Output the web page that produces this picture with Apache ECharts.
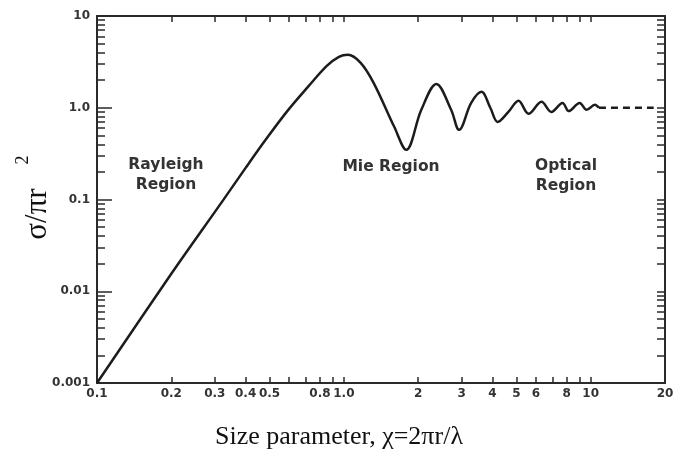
<!DOCTYPE html>
<html>
<head>
<meta charset="utf-8">
<script src="https://cdn.jsdelivr.net/npm/echarts@6/dist/echarts.min.js"></script>
<style>
  html, body { margin: 0; padding: 0; background: #ffffff; }
  #chart { width: 692px; height: 451px; }
</style>
</head>
<body>
<div id="chart"></div>
<script>
// Normalised radar cross-section of a conducting sphere vs. size parameter
const sizeParam = [0.1, 0.2, 0.325, 0.400, 0.482, 0.591, 0.721, 0.853, 0.955, 1.038, 1.17, 1.32, 1.60, 1.79,
  2.06, 2.37, 2.72, 2.93, 3.28, 3.61, 3.92, 4.2, 4.64, 5.10, 5.6, 6.32, 6.93, 7.69, 8.15, 9.02, 9.63, 10.4, 10.8];
const crossSection = [0.001, 0.0155, 0.099, 0.221, 0.447, 0.925, 1.73, 2.86, 3.59, 3.78, 3.09, 1.87, 0.62, 0.348,
  0.95, 1.82, 0.95, 0.574, 1.13, 1.49, 1.0, 0.70, 0.90, 1.19, 0.86, 1.16, 0.90, 1.13, 0.92, 1.13, 0.95, 1.08, 1.0];

// Optical (geometric) limit, drawn dashed
const opticalX = [10.8, 18];
const opticalY = [1.0, 1.0];

// Axis ticks and labels
const xTickValues = [0.2, 0.3, 0.4, 0.5, 0.6, 0.7, 0.8, 0.9, 1, 2, 3, 4, 5, 6, 7, 8, 9, 10];
const xLabelValues = [0.1, 0.2, 0.3, 0.4, 0.5, 0.8, 1, 2, 3, 4, 5, 6, 8, 10, 20];
const xLabelTexts = ['0.1', '0.2', '0.3', '0.4', '0.5', '0.8', '1.0', '2', '3', '4', '5', '6', '8', '10', '20'];
const yMajorValues = [0.001, 0.01, 0.1, 1, 10];
const yMajorTexts = ['0.001', '0.01', '0.1', '1.0', '10'];
const yMinorValues = [
  0.002, 0.003, 0.004, 0.005, 0.006, 0.007, 0.008, 0.009,
  0.02, 0.03, 0.04, 0.05, 0.06, 0.07, 0.08, 0.09,
  0.2, 0.3, 0.4, 0.5, 0.6, 0.7, 0.8, 0.9,
  2, 3, 4, 5, 6, 7, 8, 9
];

// Region annotations
const regionNames = ['Rayleigh\nRegion', 'Mie Region', 'Optical\nRegion'];

const INK = '#1c1c1c';
const LABEL_FONT = { fontFamily: 'DejaVu Sans', fontWeight: 'bold', fontSize: 12, color: '#333333' };
const REGION_FONT = 'bold 15.5px "DejaVu Sans"';

function lookup(values, texts) {
  return function (v) {
    const i = values.findIndex(t => Math.abs(Math.log10(t) - Math.log10(v)) < 1e-6);
    return i < 0 ? '' : texts[i];
  };
}

const chart = echarts.init(document.getElementById('chart'), null, { renderer: 'canvas' });

const xBase = { type: 'log', logBase: 10, min: 0.1, max: 20, splitLine: { show: false }, minorTick: { show: false } };
const yBase = { type: 'log', logBase: 10, min: 0.001, max: 10, splitLine: { show: false }, minorTick: { show: false } };
const frameLine = { show: true, lineStyle: { color: '#2a2a2a', width: 2 } };
const tickLine = { color: '#2a2a2a', width: 1.5 };

chart.setOption({
  animation: false,
  backgroundColor: '#ffffff',
  grid: { left: 97, right: 27, top: 16, bottom: 68 },
  xAxis: [
    Object.assign({}, xBase, {
      position: 'bottom',
      axisLine: frameLine,
      axisTick: { show: true, inside: true, length: 6, customValues: xTickValues, lineStyle: tickLine },
      axisLabel: Object.assign({ show: true, margin: 5, customValues: xLabelValues, formatter: lookup(xLabelValues, xLabelTexts) }, LABEL_FONT)
    }),
    Object.assign({}, xBase, {
      position: 'top',
      axisLine: frameLine,
      axisTick: { show: true, inside: true, length: 6, customValues: xTickValues, lineStyle: tickLine },
      axisLabel: { show: false }
    })
  ],
  yAxis: [
    Object.assign({}, yBase, {
      position: 'left',
      axisLine: frameLine,
      axisTick: { show: true, inside: true, length: 15, customValues: yMajorValues, lineStyle: tickLine },
      axisLabel: Object.assign({ show: true, margin: 7, customValues: yMajorValues, formatter: lookup(yMajorValues, yMajorTexts) }, LABEL_FONT)
    }),
    Object.assign({}, yBase, {
      position: 'left',
      axisLine: { show: false },
      axisTick: { show: true, inside: true, length: 8, customValues: yMinorValues, lineStyle: tickLine },
      axisLabel: { show: false }
    }),
    Object.assign({}, yBase, {
      position: 'right',
      axisLine: frameLine,
      axisTick: { show: true, inside: true, length: 8, customValues: yMinorValues.concat(yMajorValues), lineStyle: tickLine },
      axisLabel: { show: false }
    })
  ],
  series: [
    {
      type: 'line',
      xAxisIndex: 0,
      yAxisIndex: 0,
      data: sizeParam.map((x, i) => [x, crossSection[i]]),
      smooth: 0.35,
      showSymbol: false,
      lineStyle: { color: INK, width: 2.5 },
      z: 5
    },
    {
      type: 'line',
      xAxisIndex: 0,
      yAxisIndex: 0,
      data: opticalX.map((x, i) => [x, opticalY[i]]),
      showSymbol: false,
      lineStyle: { color: INK, width: 2.5, type: [7, 5] },
      z: 5
    }
  ],
  graphic: [
    { type: 'text', x: 166, y: 175, style: { text: regionNames[0], align: 'center', verticalAlign: 'middle', lineHeight: 20, font: REGION_FONT, fill: '#333333' } },
    { type: 'text', x: 391, y: 167, style: { text: regionNames[1], align: 'center', verticalAlign: 'middle', lineHeight: 20, font: REGION_FONT, fill: '#333333' } },
    { type: 'text', x: 566, y: 176, style: { text: regionNames[2], align: 'center', verticalAlign: 'middle', lineHeight: 20, font: REGION_FONT, fill: '#333333' } },
    { type: 'text', x: 339, y: 437, style: { text: 'Size parameter, χ=2πr/λ', align: 'center', verticalAlign: 'middle', font: '26px "Liberation Serif"', fill: '#111111' } },
    // vertical axis title: σ/πr with a raised 2
    { type: 'text', x: 38, y: 214, rotation: Math.PI / 2, style: { text: 'σ/πr', align: 'center', verticalAlign: 'middle', font: '31px "Liberation Serif"', fill: '#111111' } },
    { type: 'text', x: 23, y: 160, rotation: Math.PI / 2, style: { text: '2', align: 'center', verticalAlign: 'middle', font: '18px "Liberation Serif"', fill: '#111111' } }
  ]
});
</script>
</body>
</html>
